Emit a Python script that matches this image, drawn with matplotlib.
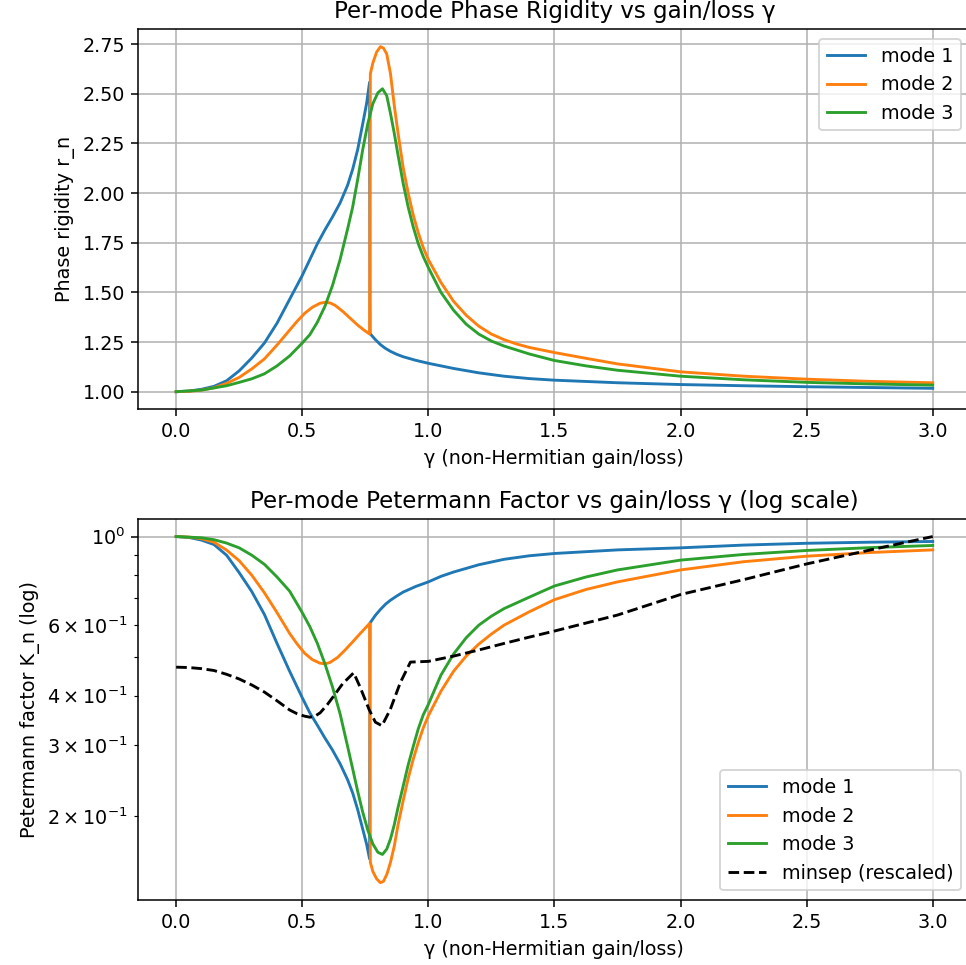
import numpy as np
import matplotlib
matplotlib.use("Agg")
import matplotlib.pyplot as plt

#---------------------------------------------Data--------------------------------------------------------------------#

# Phase rigidity per mode
g_r1 = [0.0, 0.05, 0.10, 0.15, 0.20, 0.25, 0.30, 0.35, 0.40, 0.45, 0.50, 0.53, 0.56, 0.59, 0.62, 0.65, 0.68,
        0.70, 0.72, 0.74, 0.755, 0.767,
        0.769, 0.79, 0.81, 0.83, 0.85, 0.875, 0.90, 0.95, 1.0, 1.05, 1.1, 1.2, 1.3, 1.4, 1.5, 1.75, 2.0, 2.25,
        2.5, 2.75, 3.0]
r1 = [1.0, 1.003, 1.012, 1.027, 1.055, 1.105, 1.17, 1.245, 1.345, 1.465, 1.585, 1.665, 1.745, 1.815, 1.88,
      1.95, 2.04, 2.12, 2.22, 2.35, 2.45, 2.558,
      1.292, 1.262, 1.237, 1.218, 1.203, 1.188, 1.176, 1.158, 1.143, 1.13, 1.117, 1.095, 1.078, 1.066, 1.058,
      1.045, 1.036, 1.03, 1.025, 1.021, 1.017]

g_r2 = [0.0, 0.05, 0.10, 0.15, 0.20, 0.25, 0.30, 0.35, 0.40, 0.45, 0.48, 0.51, 0.54, 0.57, 0.59, 0.61, 0.63,
        0.66, 0.69, 0.72, 0.745, 0.767,
        0.770, 0.78, 0.795, 0.81, 0.822, 0.835, 0.85, 0.865, 0.88, 0.90, 0.92, 0.94, 0.96, 0.98, 1.0, 1.05,
        1.1, 1.15, 1.2, 1.25, 1.3, 1.35, 1.4, 1.5, 1.625, 1.75, 2.0, 2.25, 2.5, 2.75, 3.0]
r2 = [1.0, 1.002, 1.008, 1.02, 1.042, 1.072, 1.115, 1.165, 1.235, 1.31, 1.355, 1.395, 1.425, 1.445, 1.45,
      1.447, 1.435, 1.405, 1.37, 1.335, 1.31, 1.29,
      2.60, 2.655, 2.71, 2.737, 2.73, 2.70, 2.60, 2.44, 2.30, 2.13, 2.00, 1.89, 1.80, 1.725, 1.665, 1.55,
      1.455, 1.385, 1.33, 1.29, 1.262, 1.24, 1.223, 1.197, 1.168, 1.14, 1.10, 1.078, 1.063, 1.052, 1.045]

g_r3 = [0.0, 0.10, 0.20, 0.25, 0.30, 0.35, 0.40, 0.45, 0.50, 0.53, 0.56, 0.59, 0.62, 0.65, 0.68, 0.70, 0.72,
        0.74, 0.76, 0.78, 0.80, 0.818, 0.835, 0.85, 0.865, 0.88, 0.90, 0.92, 0.94, 0.96, 0.98, 1.0, 1.05, 1.1,
        1.15, 1.2, 1.25, 1.3, 1.4, 1.5, 1.625, 1.75, 2.0, 2.25, 2.5, 2.75, 3.0]
r3 = [1.0, 1.008, 1.03, 1.047, 1.065, 1.09, 1.13, 1.18, 1.245, 1.287, 1.35, 1.43, 1.535, 1.665, 1.82, 1.93,
      2.07, 2.22, 2.35, 2.45, 2.505, 2.525, 2.49, 2.40, 2.30, 2.19, 2.05, 1.93, 1.83, 1.745, 1.68, 1.625, 1.5,
      1.41, 1.34, 1.29, 1.255, 1.23, 1.19, 1.157, 1.13, 1.108, 1.078, 1.06, 1.047, 1.039, 1.033]

# Petermann factor per mode
g_k1 = [0.0, 0.05, 0.10, 0.15, 0.20, 0.25, 0.30, 0.35, 0.40, 0.45, 0.50, 0.53, 0.56, 0.59, 0.62, 0.65, 0.68,
        0.70, 0.72, 0.74, 0.755, 0.767,
        0.769, 0.79, 0.81, 0.83, 0.85, 0.875, 0.90, 0.95, 1.0, 1.05, 1.1, 1.2, 1.3, 1.4, 1.5, 1.75, 2.0, 2.25,
        2.5, 2.75, 3.0]
k1 = [1.0, 0.995, 0.98, 0.955, 0.898, 0.812, 0.728, 0.638, 0.54, 0.46, 0.395, 0.362, 0.337, 0.313, 0.292,
      0.27, 0.246, 0.228, 0.207, 0.185, 0.17, 0.156,
      0.608, 0.635, 0.657, 0.677, 0.693, 0.71, 0.726, 0.75, 0.77, 0.795, 0.815, 0.85, 0.877, 0.895, 0.907,
      0.926, 0.937, 0.952, 0.962, 0.968, 0.972]

g_k2 = [0.0, 0.05, 0.10, 0.15, 0.20, 0.25, 0.30, 0.35, 0.40, 0.45, 0.48, 0.51, 0.54, 0.57, 0.59, 0.61, 0.64,
        0.67, 0.70, 0.73, 0.767,
        0.770, 0.78, 0.795, 0.81, 0.822, 0.836, 0.85, 0.865, 0.88, 0.90, 0.92, 0.94, 0.96, 0.98, 1.0, 1.05,
        1.1, 1.15, 1.2, 1.25, 1.3, 1.4, 1.5, 1.625, 1.75, 2.0, 2.25, 2.5, 2.75, 3.0]
k2 = [1.0, 0.997, 0.988, 0.968, 0.925, 0.87, 0.80, 0.723, 0.645, 0.572, 0.538, 0.51, 0.492, 0.482, 0.48,
      0.484, 0.498, 0.52, 0.545, 0.572, 0.606,
      0.153, 0.145, 0.139, 0.136, 0.137, 0.143, 0.153, 0.168, 0.19, 0.218, 0.248, 0.277, 0.305, 0.332, 0.356,
      0.41, 0.46, 0.502, 0.538, 0.57, 0.60, 0.648, 0.695, 0.737, 0.77, 0.825, 0.865, 0.893, 0.912, 0.926]

g_k3 = [0.0, 0.10, 0.15, 0.20, 0.25, 0.30, 0.35, 0.40, 0.45, 0.50, 0.53, 0.56, 0.59, 0.62, 0.65, 0.68, 0.70,
        0.72, 0.74, 0.76, 0.78, 0.80, 0.818, 0.835, 0.85, 0.865, 0.88, 0.90, 0.92, 0.94, 0.96, 0.98, 1.0,
        1.05, 1.1, 1.15, 1.2, 1.25, 1.3, 1.4, 1.5, 1.625, 1.75, 2.0, 2.25, 2.5, 2.75, 3.0]
k3 = [1.0, 0.993, 0.982, 0.963, 0.937, 0.898, 0.852, 0.792, 0.73, 0.645, 0.595, 0.54, 0.48, 0.42, 0.36,
      0.298, 0.262, 0.23, 0.204, 0.184, 0.17, 0.162, 0.160, 0.165, 0.175, 0.19, 0.21, 0.237, 0.268, 0.298,
      0.33, 0.358, 0.38, 0.45, 0.508, 0.558, 0.60, 0.632, 0.66, 0.705, 0.752, 0.792, 0.825, 0.873, 0.902,
      0.923, 0.938, 0.950]

# Minimum eigenvalue separation (rescaled)
g_ms = [0.0, 0.05, 0.10, 0.15, 0.20, 0.25, 0.30, 0.35, 0.40, 0.45, 0.48, 0.51, 0.53, 0.55, 0.571, 0.60, 0.63,
        0.66, 0.704, 0.73, 0.765, 0.79, 0.816, 0.849, 0.889, 0.929, 1.0, 1.1, 1.2, 1.3, 1.4, 1.5, 1.75, 2.0,
        2.25, 2.5, 2.75, 3.0]
minsep = [0.471, 0.47, 0.467, 0.462, 0.452, 0.44, 0.425, 0.408, 0.388, 0.368, 0.36, 0.355, 0.353, 0.355,
          0.362, 0.38, 0.403, 0.428, 0.456, 0.419, 0.369, 0.343, 0.336, 0.369, 0.431, 0.485, 0.487, 0.502,
          0.52, 0.54, 0.56, 0.58, 0.636, 0.716, 0.78, 0.854, 0.925, 1.0]

#---------------------------------------------Figure----------------------------------------------------------------#

fig = plt.figure(figsize=(7.0, 6.993), dpi=138)
ax1 = fig.add_axes([0.1432, 0.5762, 0.8615, 0.3933])
ax2 = fig.add_axes([0.1432, 0.0674, 0.8615, 0.3945])

ax1.plot(g_r1, r1, label="mode 1")
ax1.plot(g_r2, r2, label="mode 2")
ax1.plot(g_r3, r3, label="mode 3")
ax1.set_title("Per-mode Phase Rigidity vs gain/loss γ")
ax1.set_xlabel("γ (non-Hermitian gain/loss)")
ax1.set_ylabel("Phase rigidity r_n")
ax1.legend(loc="upper right")
ax1.grid(True)

ax2.plot(g_k1, k1, label="mode 1")
ax2.plot(g_k2, k2, label="mode 2")
ax2.plot(g_k3, k3, label="mode 3")
ax2.plot(g_ms, minsep, "k--", label="minsep (rescaled)")
ax2.set_yscale("log")
ax2.set_title("Per-mode Petermann Factor vs gain/loss γ (log scale)")
ax2.set_xlabel("γ (non-Hermitian gain/loss)")
ax2.set_ylabel("Petermann factor K_n (log)")
ax2.legend(loc="lower right")
ax2.grid(True)

fig.savefig("out.png", dpi=138)
